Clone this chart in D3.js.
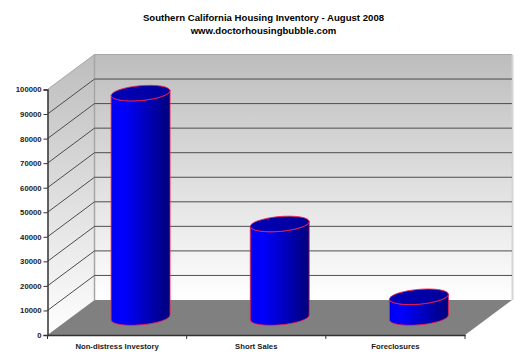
<!DOCTYPE html>
<html>
<head>
<meta charset="utf-8">
<script src="https://cdn.jsdelivr.net/npm/d3@7/dist/d3.min.js"></script>
<style>
  html, body { margin: 0; padding: 0; background: #fff; }
  svg { display: block; }
  text { font-family: "Liberation Sans", Arial, sans-serif; font-weight: bold; fill: #1a1a1a; }
</style>
</head>
<body>
<script>
// values
const categories = ['Non-distress Investory', 'Short Sales', 'Foreclosures'];
const inventory = [91400, 38100, 8450];
const yTicks = [0, 10000, 20000, 30000, 40000, 50000, 60000, 70000, 80000, 90000, 100000];
const titleLines = ['Southern California Housing Inventory - August 2008', 'www.doctorhousingbubble.com'];

const width = 525, height = 362;
const margins = { top: 89.5, right: 60, bottom: 27, left: 47.5 };
const depth = { x: 47, y: -35 };

const svg = d3.select('body').append('svg')
    .attr('width', width)
    .attr('height', height);

const xScale = d3.scaleBand()
    .domain(categories)
    .range([margins.left, width - margins.right]);

const yScale = d3.scaleLinear()
    .domain([0, 100000])
    .range([height - margins.bottom, margins.top]);

const x0 = xScale.range()[0], x1 = xScale.range()[1];
const y0 = yScale(0), yTop = yScale(100000);

// gradients
const defs = svg.append('defs');

const wallGrad = defs.append('linearGradient')
    .attr('id', 'wall')
    .attr('gradientUnits', 'userSpaceOnUse')
    .attr('x1', 0).attr('x2', 0)
    .attr('y1', yTop + depth.y).attr('y2', y0 + depth.y);
wallGrad.append('stop').attr('offset', 0).attr('stop-color', '#bdbdbd');
wallGrad.append('stop').attr('offset', 1).attr('stop-color', '#ffffff');

const sideGrad = defs.append('linearGradient')
    .attr('id', 'side')
    .attr('gradientUnits', 'userSpaceOnUse')
    .attr('x1', 0).attr('x2', 0)
    .attr('y1', yTop + depth.y).attr('y2', y0);
sideGrad.append('stop').attr('offset', 0).attr('stop-color', '#bdbdbd');
sideGrad.append('stop').attr('offset', 1).attr('stop-color', '#ffffff');

const bodyGrad = defs.append('linearGradient').attr('id', 'body');
bodyGrad.append('stop').attr('offset', 0).attr('stop-color', '#0000f0');
bodyGrad.append('stop').attr('offset', 0.2).attr('stop-color', '#0000ff');
bodyGrad.append('stop').attr('offset', 1).attr('stop-color', '#00007a');

const capGrad = defs.append('linearGradient').attr('id', 'cap');
capGrad.append('stop').attr('offset', 0).attr('stop-color', '#0000b8');
capGrad.append('stop').attr('offset', 1).attr('stop-color', '#00009a');

// back wall, left wall, floor
const poly = pts => 'M' + pts.map(p => p.join(',')).join('L') + 'Z';

svg.append('path')
    .attr('d', poly([[x0, yTop], [x0 + depth.x, yTop + depth.y], [x0 + depth.x, y0 + depth.y], [x0, y0]]))
    .style('fill', 'url(#side)');

svg.append('rect')
    .attr('x', x0 + depth.x)
    .attr('y', yTop + depth.y)
    .attr('width', x1 - x0)
    .attr('height', y0 - yTop)
    .style('fill', 'url(#wall)');

svg.append('path')
    .attr('d', poly([[x0, y0], [x0 + depth.x, y0 + depth.y], [x1 + depth.x, y0 + depth.y], [x1, y0]]))
    .style('fill', '#808080');

// wall edges
svg.append('path')
    .attr('d', `M${x0},${yTop}L${x0 + depth.x},${yTop + depth.y}H${x1 + depth.x}`)
    .style('fill', 'none')
    .style('stroke', '#a6a6a6')
    .style('stroke-width', 1);

svg.append('line')
    .attr('x1', x0 + depth.x).attr('x2', x0 + depth.x)
    .attr('y1', yTop + depth.y).attr('y2', y0 + depth.y)
    .style('stroke', '#a6a6a6')
    .style('stroke-width', 1.5);

svg.append('line')
    .attr('x1', x1 + depth.x + 0.5).attr('x2', x1 + depth.x + 0.5)
    .attr('y1', yTop + depth.y).attr('y2', y0 + depth.y)
    .style('stroke', '#d4d4d4')
    .style('stroke-width', 2);

// gridlines on the walls
const grid = yTicks.filter(d => d > 0 && d < 100000);

svg.append('g').selectAll('path')
    .data(grid)
    .join('path')
    .attr('d', d => `M${x0},${yScale(d)}L${x0 + depth.x},${yScale(d) + depth.y}H${x1 + depth.x}`)
    .style('fill', 'none')
    .style('stroke', '#4d4d4d')
    .style('stroke-width', 1);

// cylinders
const rx = xScale.bandwidth() * 0.2125, ry = 7.4, tilt = -5;
const rad = tilt * Math.PI / 180;
const ex = rx * Math.cos(rad), ey = rx * Math.sin(rad);

const bars = svg.append('g').selectAll('g')
    .data(categories.map((c, i) => ({ c, v: inventory[i] })))
    .join('g')
    .attr('transform', d => `translate(${xScale(d.c) + xScale.bandwidth() / 2 + depth.x / 2},${depth.y / 2})`);

bars.append('path')
    .attr('d', d => {
        const top = yScale(d.v), base = yScale(0);
        return `M${-ex},${top - ey}L${-ex},${base - ey}` +
            `A${rx},${ry} ${tilt} 0 0 ${ex},${base + ey}` +
            `L${ex},${top + ey}` +
            `A${rx},${ry} ${tilt} 0 1 ${-ex},${top - ey}Z`;
    })
    .style('fill', 'url(#body)')
    .style('stroke', '#ff1a4a')
    .style('stroke-width', 0.8);

bars.append('ellipse')
    .attr('rx', rx)
    .attr('ry', ry)
    .attr('transform', d => `translate(0,${yScale(d.v)}) rotate(${tilt})`)
    .style('fill', 'url(#cap)')
    .style('stroke', '#ff1a4a')
    .style('stroke-width', 0.8);

// axes
const yAxis = svg.append('g')
    .attr('transform', `translate(${x0},0)`)
    .call(d3.axisLeft(yScale).tickValues(yTicks).tickFormat(d3.format('d')).tickSize(4).tickPadding(2));

const xAxis = svg.append('g')
    .attr('transform', `translate(0,${y0})`)
    .call(d3.axisBottom(xScale).tickSize(0).tickPadding(8.5));

xAxis.selectAll('.cat-tick')
    .data(d3.range(categories.length + 1))
    .join('line')
    .attr('class', 'cat-tick')
    .attr('x1', i => x0 + i * xScale.step())
    .attr('x2', i => x0 + i * xScale.step())
    .attr('y1', 0)
    .attr('y2', 4)
    .style('stroke', '#333');

svg.selectAll('.domain').style('stroke', '#333').style('stroke-width', 1.5);
yAxis.selectAll('.tick line').style('stroke', '#333');
svg.selectAll('.tick text')
    .style('font-size', '7.7px')
    .style('font-family', '"Liberation Sans", Arial, sans-serif')
    .style('font-weight', 'bold')
    .style('fill', '#1a1a1a');

// title
svg.selectAll('.title')
    .data(titleLines)
    .join('text')
    .attr('class', 'title')
    .attr('x', 263.5)
    .attr('y', (d, i) => 21 + i * 13)
    .attr('text-anchor', 'middle')
    .style('font-size', '9.6px')
    .style('fill', '#000')
    .text(d => d);
</script>
</body>
</html>
